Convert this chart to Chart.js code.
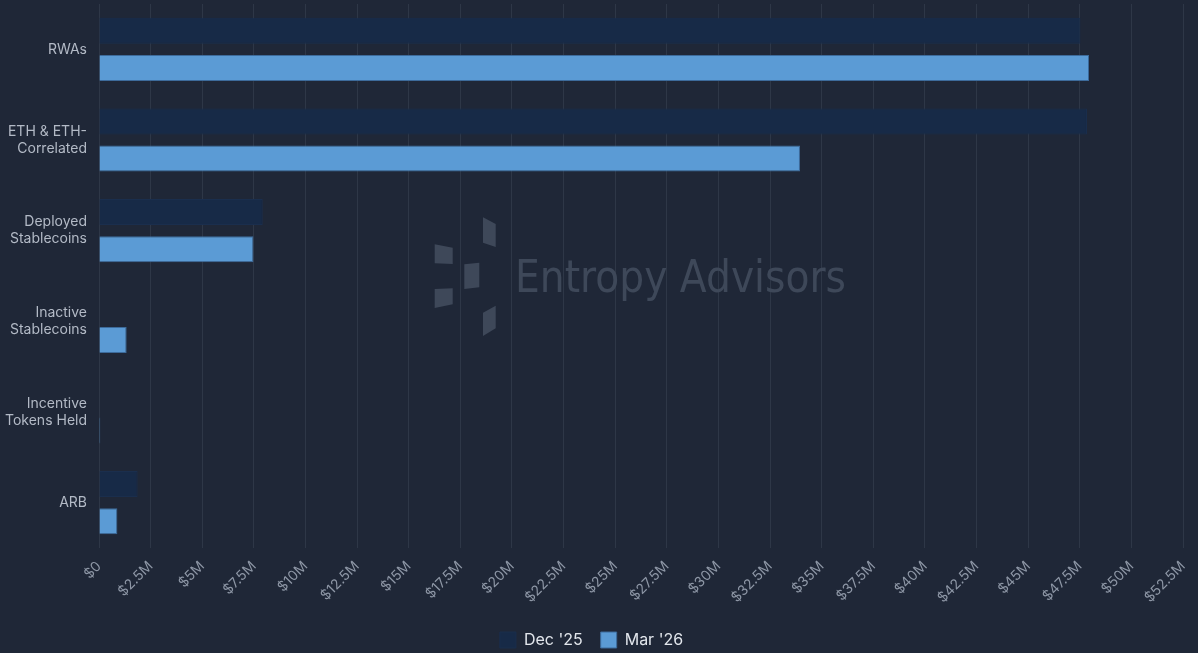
<!DOCTYPE html>
<html>
<head>
<meta charset="utf-8">
<script src="https://cdn.jsdelivr.net/npm/chart.js@4.4.1/dist/chart.umd.min.js"></script>
<style>
  html, body { margin: 0; padding: 0; background: #1f2737; }
  #wrap { position: relative; width: 1198px; height: 653px; }
</style>
</head>
<body>
<div id="wrap"><canvas id="c" width="1198" height="653"></canvas></div>
<script>
const categories = [["RWAs"], ["ETH & ETH-", "Correlated"], ["Deployed", "Stablecoins"], ["Inactive", "Stablecoins"], ["Incentive", "Tokens Held"], ["ARB"]];
const seriesNames = ["Dec '25", "Mar '26"];
const dec25 = [47.53e6, 47.85e6, 7.93e6, 0, 0, 1.87e6];
const mar26 = [47.95e6, 33.95e6, 7.48e6, 1.34e6, 0.06e6, 0.89e6];
const xMax = 52.5e6;
const xStep = 2.5e6;

function fmtMoney(v) {
  if (v === 0) return "$0";
  const m = v / 1e6;
  return "$" + (Math.round(m * 10) / 10) + "M";
}

const watermark = {
  id: 'watermark',
  beforeDraw(chart) {
    const ctx = chart.ctx;
    ctx.save();
    ctx.fillStyle = '#1f2737';
    ctx.fillRect(0, 0, chart.width, chart.height);
    ctx.restore();
  },
  beforeDatasetsDraw(chart) {
    const ctx = chart.ctx;
    ctx.save();
    ctx.fillStyle = '#3e4859';
    const polys = [
      [[434.7,244.3],[452.7,247.7],[452.7,264],[434.7,263.3]],
      [[434.7,289],[452.7,288.3],[452.7,304.3],[434.7,308]],
      [[464.3,264.3],[479.3,262.7],[479.3,287.3],[464.3,289]],
      [[483,217.3],[495.7,224],[495.7,247],[483,242.7]],
      [[483,312.7],[495.7,305.7],[495.7,328.3],[483,336]]
    ];
    polys.forEach(p => {
      ctx.beginPath();
      ctx.moveTo(p[0][0], p[0][1]);
      for (let i = 1; i < p.length; i++) ctx.lineTo(p[i][0], p[i][1]);
      ctx.closePath();
      ctx.fill();
    });
    ctx.font = '44px "DejaVu Sans"';
    ctx.textBaseline = 'alphabetic';
    ctx.textAlign = 'left';
    const txt = 'Entropy Advisors';
    const w = ctx.measureText(txt).width;
    ctx.save();
    ctx.translate(515, 292);
    ctx.scale(331 / w, 1);
    ctx.fillText(txt, 0, 0);
    ctx.restore();
    ctx.restore();
  }
};

new Chart(document.getElementById('c'), {
  type: 'bar',
  data: {
    labels: categories,
    datasets: [
      {
        label: seriesNames[0],
        data: dec25,
        backgroundColor: '#172a47',
        borderColor: '#1a2e4d',
        borderWidth: 1,
        categoryPercentage: 0.82,
        barPercentage: 0.7
      },
      {
        label: seriesNames[1],
        data: mar26,
        backgroundColor: '#5b9bd5',
        borderColor: '#3d6b9b',
        borderWidth: 1,
        categoryPercentage: 0.82,
        barPercentage: 0.7
      }
    ]
  },
  options: {
    indexAxis: 'y',
    responsive: false,
    animation: false,
    devicePixelRatio: 1,
    layout: { padding: { left: 0, right: 15, top: 4, bottom: -5 } },
    scales: {
      x: {
        min: 0,
        max: xMax,
        ticks: {
          stepSize: xStep,
          color: '#8e97a6',
          font: { family: 'Inter', size: 14 },
          maxRotation: 45,
          minRotation: 45,
          padding: 10,
          callback: (v) => fmtMoney(v)
        },
        grid: { color: '#2e3747', drawTicks: false },
        border: { display: false },
        afterFit(scale) { scale.height = 66; scale.paddingLeft = 0; scale.paddingRight = 0; }
      },
      y: {
        ticks: {
          color: '#b3bac6',
          font: { family: 'Inter', size: 14, lineHeight: 1.2 },
          padding: 12
        },
        grid: { display: false, drawTicks: false },
        border: { display: false },
        afterFit(scale) { scale.width = 99; scale.paddingTop = 0; scale.paddingBottom = 0; }
      }
    },
    plugins: {
      legend: {
        position: 'bottom',
        labels: {
          color: '#e2e6ec',
          font: { family: 'Inter', size: 16 },
          boxWidth: 16,
          boxHeight: 16,
          padding: 18
        }
      },
      tooltip: { enabled: false }
    }
  },
  plugins: [watermark]
});
</script>
</body>
</html>
